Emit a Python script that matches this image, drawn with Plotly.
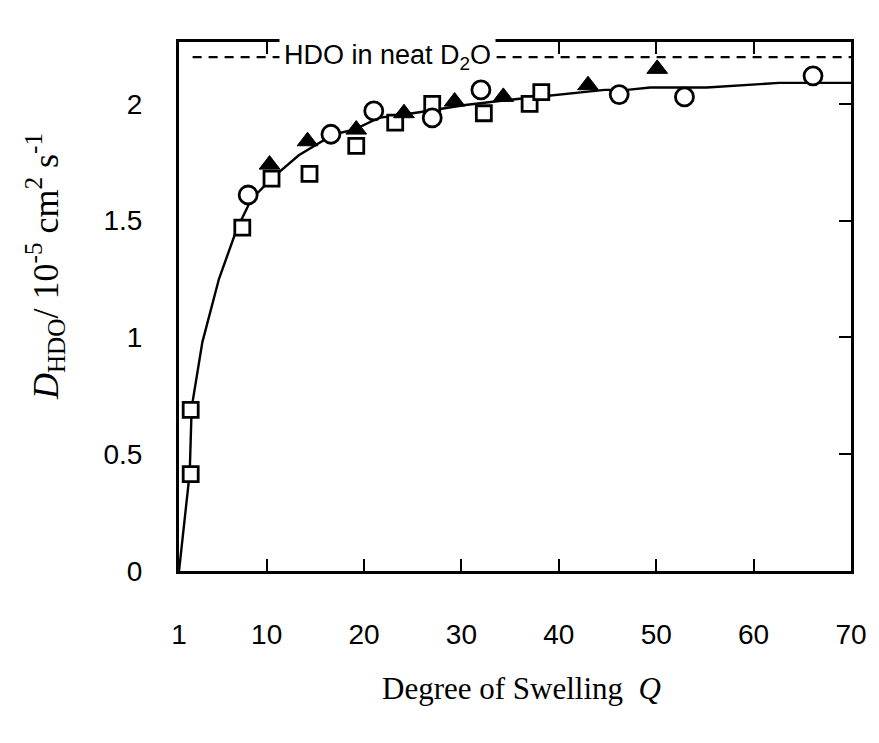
import plotly.graph_objects as go

# ---- data ----
squares_q = [2.2, 2.2, 7.5, 10.5, 14.4, 19.2, 23.2, 27.0, 32.3, 37.0, 38.2]
squares_d = [0.415, 0.69, 1.47, 1.68, 1.70, 1.82, 1.92, 2.00, 1.96, 2.00, 2.05]

circles_q = [8.1, 16.6, 21.0, 27.0, 32.0, 46.2, 52.9, 66.1]
circles_d = [1.61, 1.87, 1.97, 1.94, 2.06, 2.04, 2.03, 2.12]

triangles_q = [10.3, 14.2, 19.2, 24.1, 29.3, 34.3, 43.0, 50.1]
triangles_d = [1.74, 1.84, 1.89, 1.96, 2.01, 2.03, 2.08, 2.15]

curve_q = [1, 2.1, 2.3, 3.4, 5.1, 6.9, 8.4, 10.5, 13.3, 16.9, 19, 21.5, 25,
           30.4, 35.5, 39.9, 42, 44.7, 47, 49.4, 55.2, 62.6, 64, 70]
curve_d = [0, 0.42, 0.70, 0.98, 1.25, 1.46, 1.59, 1.68, 1.78, 1.87, 1.89, 1.94,
           1.96, 1.995, 2.02, 2.04, 2.05, 2.06, 2.06, 2.07, 2.07, 2.09, 2.09, 2.09]

neat_q = [2.4, 70]
neat_d = [2.20, 2.20]

x_ticks = [1, 10, 20, 30, 40, 50, 60, 70]
y_ticks = [0, 0.5, 1, 1.5, 2]
y_tick_text = ["0", "0.5", "1", "1.5", "2"]

fig = go.Figure()

fig.add_trace(go.Scatter(x=neat_q, y=neat_d, mode="lines",
                         line=dict(color="black", width=2.2, dash="9px,7px"),
                         hoverinfo="skip", showlegend=False))
fig.add_trace(go.Scatter(x=curve_q, y=curve_d, mode="lines",
                         line=dict(color="black", width=2.4),
                         showlegend=False))
fig.add_trace(go.Scatter(x=squares_q, y=squares_d, mode="markers",
                         marker=dict(symbol="square", size=15, color="white",
                                     line=dict(color="black", width=2.8)),
                         showlegend=False))
fig.add_trace(go.Scatter(x=circles_q, y=circles_d, mode="markers",
                         marker=dict(symbol="circle", size=18, color="white",
                                     line=dict(color="black", width=2.8)),
                         showlegend=False))
fig.add_trace(go.Scatter(x=triangles_q, y=triangles_d, mode="markers",
                         marker=dict(symbol="triangle-up", size=18, color="black",
                                     line=dict(color="black", width=1)),
                         showlegend=False))

# invisible trace to carry the mirrored tick axes
fig.add_trace(go.Scatter(x=[1], y=[0], xaxis="x2", yaxis="y2", mode="markers",
                         marker=dict(opacity=0), hoverinfo="skip", showlegend=False))

fig.add_annotation(x=22.4, y=2.20, xref="x", yref="y",
                   text="HDO in neat D<sub>2</sub>O", showarrow=False,
                   bgcolor="white", borderpad=4,
                   font=dict(family="Liberation Sans, Arial", size=27, color="black"))

fig.add_annotation(x=-0.199, y=0.575, xref="paper", yref="paper",
                   text="<i>D</i><sub>HDO</sub>/ 10<sup>-5</sup> cm<sup>2</sup> s<sup>-1</sup>",
                   textangle=-90, showarrow=False, xanchor="center", yanchor="middle",
                   font=dict(family="Liberation Serif, Times New Roman", size=36, color="black"))

fig.add_annotation(x=0.51, y=-0.222, xref="paper", yref="paper",
                   text="Degree of Swelling  <i>Q</i>", showarrow=False,
                   xanchor="center", yanchor="middle",
                   font=dict(family="Liberation Serif, Times New Roman", size=31, color="black"))

axis_font = dict(family="Liberation Sans, Arial", size=28, color="black")

fig.update_layout(
    width=879, height=743,
    margin=dict(l=179, r=25, t=42, b=172),
    paper_bgcolor="white", plot_bgcolor="white",
    xaxis=dict(range=[1, 70], tickvals=x_ticks, ticktext=[str(v) for v in x_ticks],
               ticks="inside", ticklen=12, tickwidth=2.2, tickcolor="black",
               showline=True, linecolor="black", linewidth=3, mirror=True,
               showgrid=False, zeroline=False, tickfont=axis_font,
               ticklabelstandoff=36),
    yaxis=dict(range=[0, 2.265], tickvals=y_ticks, ticktext=y_tick_text,
               ticks="", showline=True, linecolor="black", linewidth=3, mirror=True,
               showgrid=False, zeroline=False, tickfont=axis_font,
               ticklabelstandoff=28),
    xaxis2=dict(overlaying="x", side="top", matches="x", range=[1, 70],
                tickvals=x_ticks, ticks="inside", ticklen=12, tickwidth=2.2,
                tickcolor="black", showticklabels=False, showgrid=False,
                zeroline=False, showline=False),
    yaxis2=dict(overlaying="y", side="right", matches="y", range=[0, 2.265],
                tickvals=y_ticks, ticks="inside", ticklen=12, tickwidth=2.2,
                tickcolor="black", showticklabels=False, showgrid=False,
                zeroline=False, showline=False),
)

fig.write_html("out.html")
